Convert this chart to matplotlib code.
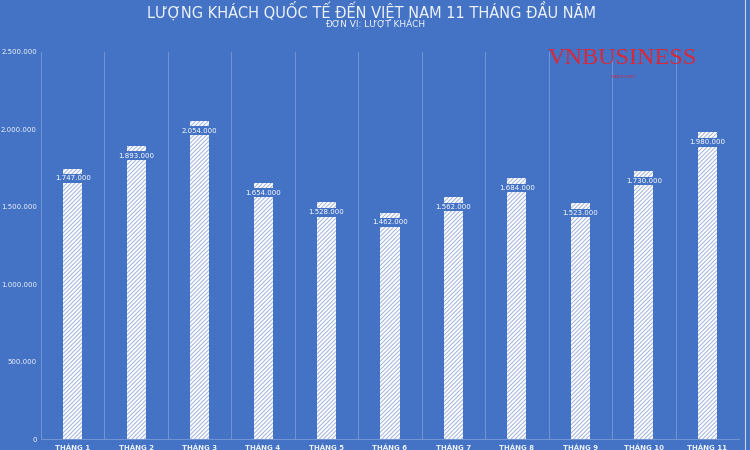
import numpy as np
import matplotlib.pyplot as plt

# du lieu
months = ["THÁNG 1", "THÁNG 2", "THÁNG 3", "THÁNG 4", "THÁNG 5", "THÁNG 6",
          "THÁNG 7", "THÁNG 8", "THÁNG 9", "THÁNG 10", "THÁNG 11"]
visitors = [1747000, 1893000, 2054000, 1654000, 1528000, 1462000,
            1562000, 1684000, 1523000, 1730000, 1980000]
yticks = [0, 500000, 1000000, 1500000, 2000000, 2500000]

bg = "#4472C4"
grid_col = "#7d9bd6"
txt_col = "#eef2fa"


def vn_fmt(v):
    return f"{v:,.0f}".replace(",", ".")


plt.rcParams["hatch.linewidth"] = 0.7

fig = plt.figure(figsize=(7.5, 4.5), dpi=100, facecolor=bg)
ax = fig.add_axes([41 / 750, 11 / 450, 698 / 750, 387 / 450], facecolor=bg)

x = np.arange(len(months))
ax.bar(x, visitors, width=0.3, color="white", edgecolor="#9cb1dd",
       linewidth=0, hatch="////////", zorder=3)

for xi, v in zip(x, visitors):
    ax.annotate(vn_fmt(v), (xi, v), xytext=(0, -7), textcoords="offset points",
                ha="center", va="center", fontsize=5, color="white", zorder=4,
                bbox=dict(boxstyle="square,pad=0.2", fc=bg, ec="none"))

ax.set_xlim(-0.5, len(months) - 0.5)
ax.set_ylim(0, 2500000)
ax.set_yticks(yticks)
ax.set_yticklabels([vn_fmt(t) for t in yticks], fontsize=5, color=txt_col)
ax.set_xticks(x)
ax.set_xticklabels(months, fontsize=5, color=txt_col, fontweight="bold")
ax.tick_params(length=0, pad=4)
ax.tick_params(axis="y", pad=3)

# duong luoi doc giua cac thang
for b in np.arange(-0.5, len(months) + 0.5, 1):
    ax.axvline(b, color=grid_col, linewidth=0.6, zorder=1)
for s in ["top", "left", "right"]:
    ax.spines[s].set_visible(False)
ax.spines["bottom"].set_color(grid_col)
ax.spines["bottom"].set_linewidth(0.6)

fig.text(0.495, 0.976, "LƯỢNG KHÁCH QUỐC TẾ ĐẾN VIỆT NAM 11 THÁNG ĐẦU NĂM",
         ha="center", va="center", fontsize=10.5, color=txt_col)
fig.text(0.5, 0.946, "ĐƠN VỊ: LƯỢT KHÁCH", ha="center", va="center",
         fontsize=6.5, color=txt_col)

# logo
fig.text(0.83, 0.87, "VNBUSINESS", ha="center", va="center", fontsize=17.5,
         family="Liberation Serif", color="#d8283a")
fig.text(0.83, 0.83, "SINCE 1993", ha="center", va="center", fontsize=3,
         color="#d8283a")

fig.add_artist(plt.Line2D([745 / 750, 745 / 750], [0, 1], color="#c9d5ef",
                          linewidth=0.8))

plt.savefig("out.png", dpi=100, facecolor=bg)
